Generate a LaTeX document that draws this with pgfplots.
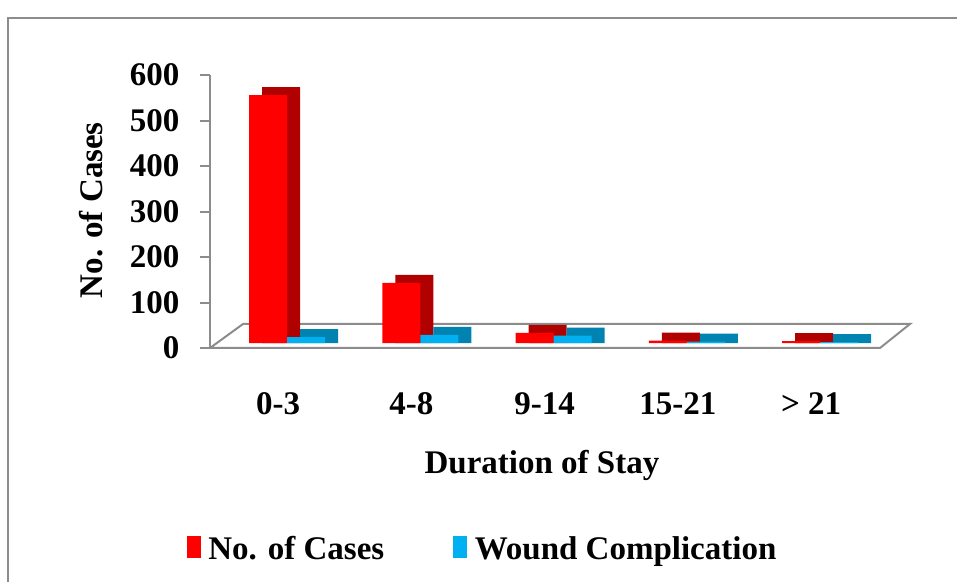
\documentclass[border=0pt]{standalone}
\usepackage{fontspec}
\setmainfont{Liberation Serif}
\usepackage{pgfplots}
\pgfplotsset{compat=1.18}
\usepackage{pgfplotstable}

\definecolor{cred}{HTML}{FF0000}
\definecolor{cdred}{HTML}{B00000}
\definecolor{cblue}{HTML}{00B0F0}
\definecolor{cdblue}{HTML}{0083B0}
\definecolor{cgray}{HTML}{8C8C8C}

% duration of stay: cases and wound complications
\pgfplotstableread{
x cases wound
0 545 13
1 132 18
2 22  16
3 5   3
4 4   2
}\staytable

\newcommand{\bigfont}{\fontsize{33}{36}\selectfont\bfseries}

\begin{document}
\begin{tikzpicture}[x=1pt,y=1pt]
\useasboundingbox (0,0) rectangle (957,581);
% outer frame
\draw[cgray, line width=2pt] (8,-10) -- (8,563) -- (970,563);
% floor
\draw[cgray, line width=2pt] (210,233) -- (880,233) -- (910,257) -- (243,257) -- cycle;
\begin{axis}[
    at={(210pt,233pt)}, anchor=south west,
    scale only axis, width=670pt, height=273pt,
    xmin=-0.578, xmax=4.45, ymin=0, ymax=600,
    ybar, bar width=38pt,
    axis lines=left,
    axis line style={-, cgray, line width=2pt},
    xtick={0,...,4},
    xticklabels={0-3,4-8,9-14,15-21,> 21},
    x tick style={draw=none},
    ytick={0,100,...,600},
    y tick style={cgray, line width=2pt},
    tick align=outside, major tick length=10pt,
    tick label style={font=\bigfont},
    /pgf/number format/assume math mode=true,
    xticklabel style={yshift=-31pt, xshift=-9pt},
    yticklabel style={xshift=-17pt},
    xlabel={Duration of Stay}, ylabel={No. of Cases},
    label style={font=\bigfont},
    xlabel style={at={(axis description cs:0.4955,-0.458)}, anchor=base},
    ylabel style={at={(axis description cs:-0.161,0.505)}, anchor=base},
    legend style={at={(0.407,-0.735)}, anchor=center, draw=none, fill=none,
        legend columns=2, font=\bigfont,
        /tikz/every odd column/.append style={column sep=6pt},
        /tikz/every even column/.append style={column sep=67pt}},
    clip=false,
]
\addplot[forget plot, fill=cdred, draw=none, bar shift=-6pt, yshift=5pt]
    table[x=x, y expr=\thisrow{cases}+17.6] {\staytable};
\addplot[forget plot, fill=cred, draw=none, bar shift=-19pt, yshift=5pt]
    table[x=x, y=cases] {\staytable};
\addplot[forget plot, fill=cdblue, draw=none, bar shift=32pt, yshift=5pt]
    table[x=x, y expr=\thisrow{wound}+17.6] {\staytable};
\addplot[forget plot, fill=cblue, draw=none, bar shift=19pt, yshift=5pt]
    table[x=x, y=wound] {\staytable};

\addlegendimage{legend image code/.code={\fill[cred] (0pt,-9pt) rectangle (13pt,12pt);}}
\addlegendentry{No. of Cases}
\addlegendimage{legend image code/.code={\fill[cblue] (0pt,-9pt) rectangle (13pt,12pt);}}
\addlegendentry{Wound Complication}
\end{axis}
\end{tikzpicture}
\end{document}
